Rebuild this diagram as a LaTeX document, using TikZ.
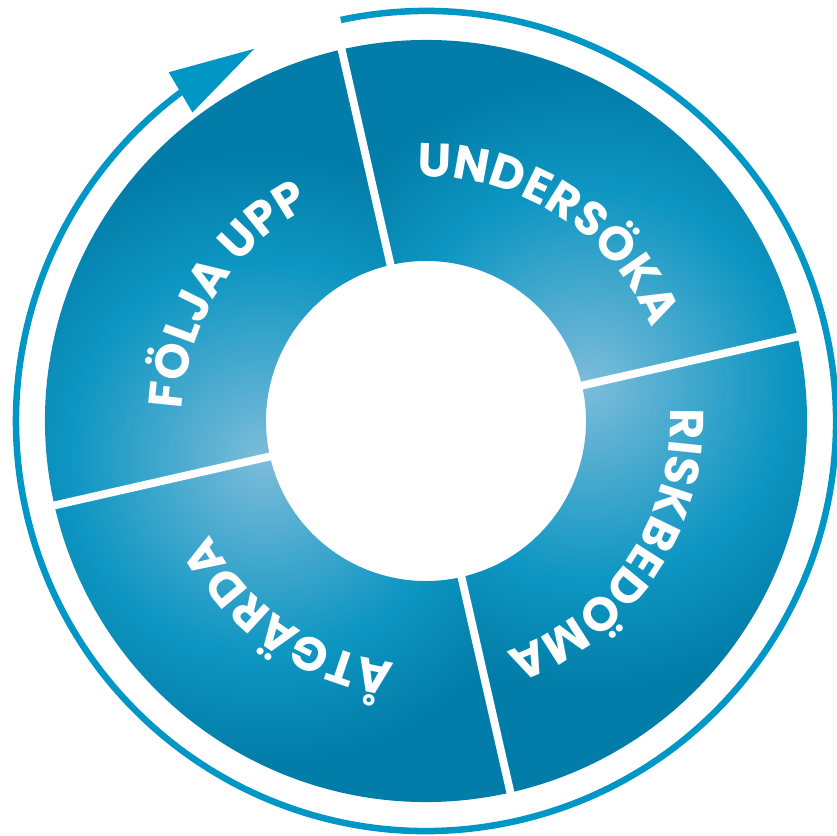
\documentclass[tikz,border=0pt]{standalone}
\usepackage{fontspec}
\setmainfont{Poppins}
\usetikzlibrary{decorations.text,arrows.meta,bending}

\definecolor{ringdark}{RGB}{2,124,168}
\definecolor{ringmid}{RGB}{14,150,194}
\definecolor{ringlight}{RGB}{125,188,218}
\definecolor{arrowblue}{RGB}{0,150,198}

\pgfdeclareradialshading{ringglow}{\pgfpointorigin}{%
  color(0bp)=(ringlight); color(5.5bp)=(ringlight!50!ringmid); color(11bp)=(ringmid);
  color(17.5bp)=(ringdark); color(50bp)=(ringdark)}

\tikzset{
  divider/.style={white,line width=4.5pt},
  steplabel/.style={decorate,decoration={text along path,text align=fit to path,
      text={|\fontsize{27}{27}\selectfont\bfseries\color{white}|#1}}}
}

\begin{document}
\begin{tikzpicture}[x=0.02cm,y=0.02cm]
                \useasboundingbox (-426,-414) rectangle (411,421);
                \foreach \a in {12.8,192.8} {
                  \begin{scope}
                    \clip (\a-90:160) arc[start angle=\a-90,end angle=\a+90,radius=160]
                      -- (\a+90:381) arc[start angle=\a+90,end angle=\a-90,radius=381] -- cycle;
                    \shade[shading=ringglow] (\a:166) circle (440);
                  \end{scope}
                }
                \foreach \a in {12.8,102.8,192.8,282.8}
                  \draw[divider] (\a:157) -- (\a:384);
                \path[steplabel=UNDERSÖKA] (92:244) arc[start angle=92,end angle=22.5,radius=244];
                \path[steplabel=RISKBEDÖMA] (3:244) arc[start angle=3,end angle=-69.3,radius=244];
                \path[steplabel=ÅTGÄRDA] (262.7:244) arc[start angle=262.7,end angle=210.8,radius=244];
                \path[steplabel=FÖLJA UPP] (177.2:244) arc[start angle=177.2,end angle=121.5,radius=244];
                \draw[arrowblue,line width=3.7pt,-{Triangle[length=49pt,width=25.5pt]}]
                  (102:410) arc[start angle=102,end angle=-245.3,radius=410];
            \end{tikzpicture}
\end{document}
